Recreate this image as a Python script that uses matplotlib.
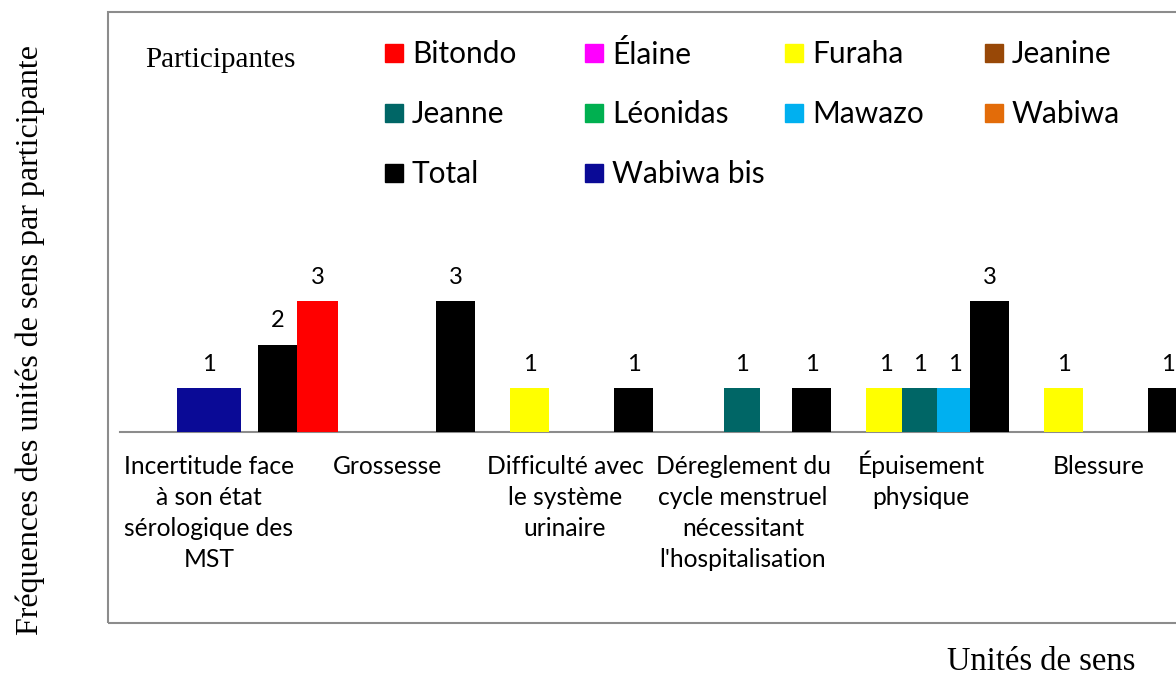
import matplotlib
matplotlib.use("Agg")
import matplotlib.pyplot as plt
from matplotlib.patches import Rectangle
import numpy as np

# ---------------- data ----------------
categories = [
    "Incertitude face\nà son état\nsérologique des\nMST",
    "Grossesse",
    "Difficulté avec\nle système\nurinaire",
    "Déreglement du\ncycle menstruel\nnécessitant\nl'hospitalisation",
    "Épuisement\nphysique",
    "Blessure",
]
participants = ["Bitondo", "Élaine", "Furaha", "Jeanine", "Jeanne",
                "Léonidas", "Mawazo", "Wabiwa", "Total", "Wabiwa bis"]
bitondo    = [3, 0, 0, 0, 0, 0]
elaine     = [0, 0, 0, 0, 0, 0]
furaha     = [0, 0, 1, 0, 1, 1]
jeanine    = [0, 0, 0, 0, 0, 0]
jeanne     = [0, 0, 0, 1, 1, 0]
leonidas   = [0, 0, 0, 0, 0, 0]
mawazo     = [0, 0, 0, 0, 1, 0]
wabiwa     = [0, 0, 0, 0, 0, 0]
total      = [2, 3, 1, 1, 3, 1]
wabiwa_bis = [1, 0, 0, 0, 0, 0]
values = [bitondo, elaine, furaha, jeanine, jeanne,
          leonidas, mawazo, wabiwa, total, wabiwa_bis]

# ---------------- style ----------------
colors = ["#FF0000", "#FF00FF", "#FFFF00", "#984807", "#006666",
          "#00B050", "#00B0F0", "#E36C09", "#000000", "#0A0A96"]
# offset within category and bar width (category units)
offsets = [0.61, 0.0, -0.2, 0.0, -0.005, 0.0, 0.19, 0.0, 0.385, 0.0]
widths  = [0.235, 0.22, 0.215, 0.22, 0.2, 0.22, 0.2, 0.22, 0.22, 0.36]
draw_order = [9, 2, 4, 6, 8, 0, 1, 3, 5, 7]

W, H = 1176, 675
fig = plt.figure(figsize=(W / 100, H / 100), dpi=100)

def fx(px):
    return px / W

def fy(py):
    return 1 - py / H

# chart-area border (extends beyond the right edge)
fig.patches.append(Rectangle((fx(108), fy(623)), fx(1300 - 108), (623 - 12) / H,
                             transform=fig.transFigure, fill=False,
                             edgecolor="#8C8C8C", linewidth=1.5, zorder=0))

# axes: x from -0.5 (px 120) to 6.5 (px 1366), baseline px 432
cat_px = 178.0
ax_left, ax_right = 120, 120 + 7 * cat_px
unit_px = 43.6
ymax = 9.0
ax_bottom = 432
ax_top = ax_bottom - ymax * unit_px
ax = fig.add_axes([fx(ax_left), fy(ax_bottom), fx(ax_right - ax_left), (ax_bottom - ax_top) / H])
ax.set_xlim(-0.5, 6.5)
ax.set_ylim(0, ymax)
ax.patch.set_alpha(0)

x = np.arange(len(categories))
for s in draw_order:
    vals = np.array(values[s], dtype=float)
    mask = vals > 0
    xs = x[mask] + offsets[s]
    bars = ax.bar(xs, vals[mask], width=widths[s], color=colors[s],
                  edgecolor="none", zorder=3)
    for b, v in zip(bars, vals[mask]):
        ax.annotate(f"{int(v)}", (b.get_x() + b.get_width() / 2, v),
                    xytext=(0, 24 * 0.72), textcoords="offset points",
                    ha="center", va="center", fontsize=17, family="Lato",
                    color="#000000")

for sp in ["top", "right", "left"]:
    ax.spines[sp].set_visible(False)
ax.spines["bottom"].set_color("#8C8C8C")
ax.spines["bottom"].set_linewidth(1.5)
ax.set_yticks([])
ax.set_xticks(x)
ax.set_xticklabels([])
ax.tick_params(axis="x", length=0)

# category labels: one text per line, baselines aligned across categories
first_baseline_px = 474 - ax_bottom
line_step_px = 31
for i, lab in enumerate(categories):
    for j, line in enumerate(lab.split("\n")):
        ax.annotate(line, (x[i], 0), xycoords=("data", "data"),
                    xytext=(0, -(first_baseline_px + j * line_step_px) * 0.72),
                    textcoords="offset points", ha="center", va="baseline",
                    fontsize=17.7, family="Lato", annotation_clip=False)

# legend (manual grid)
fig.text(fx(145), fy(60), "Participantes", family="Liberation Serif",
         fontsize=21, ha="left", va="center")
for i, (name, c) in enumerate(zip(participants, colors)):
    row, col = divmod(i, 4)
    cx = 385 + 200 * col
    cy = 53 + 60 * row
    fig.patches.append(Rectangle((fx(cx), fy(cy + 9)), fx(18), 18 / H,
                                 transform=fig.transFigure, color=c))
    fig.text(fx(cx + 27), fy(cy + 1), name, family="Lato", fontsize=21.5,
             ha="left", va="center")

# axis titles
fig.text(fx(30), fy(340), "Fréquences des unités de sens par participante",
         family="Liberation Serif", fontsize=23, rotation=90,
         ha="center", va="center")
fig.text(fx(1041), fy(662), "Unités de sens", family="Liberation Serif",
         fontsize=23.5, ha="center", va="center")

fig.savefig("out.png", dpi=100)
